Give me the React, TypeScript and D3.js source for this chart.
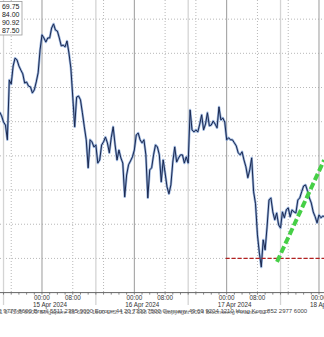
import React from 'react';
import * as d3 from 'd3';

// Price series: 30-minute samples starting 14 Apr 2024 13:00 UTC
const seriesStart = Date.UTC(2024, 3, 14, 13, 0);
const stepMinutes = 30;
const prices = [
  5042.8, 5041.7, 5039.9, 5039.0, 5034.7, 5052.2, 5051.0, 5056.3, 5058.6, 5058.1,
  5056.3, 5055.1, 5054.0, 5051.3, 5051.6, 5050.4, 5050.2, 5048.4, 5049.3, 5051.6,
  5054.3, 5061.0, 5065.4, 5064.5, 5063.3, 5064.5, 5064.5, 5067.4, 5068.6, 5066.8,
  5066.5, 5064.5, 5062.2, 5062.4, 5061.9, 5063.6, 5060.1, 5055.7, 5047.2, 5038.5,
  5047.2, 5047.5, 5046.4, 5042.6, 5038.5, 5034.7, 5026.5, 5034.7, 5034.1, 5032.6,
  5033.2, 5027.9, 5028.8, 5033.2, 5034.1, 5035.5, 5033.8, 5030.9, 5035.3, 5038.5,
  5033.2, 5028.8, 5031.7, 5029.4, 5027.9, 5018.0, 5024.4, 5027.4, 5028.5, 5029.7,
  5031.7, 5036.1, 5036.7, 5034.7, 5033.8, 5034.7, 5030.3, 5017.7, 5025.9, 5026.5,
  5030.3, 5033.2, 5032.6, 5030.3, 5022.4, 5028.8, 5025.0, 5020.9, 5018.9, 5021.5,
  5028.2, 5032.6, 5028.2, 5029.4, 5030.3, 5030.3, 5027.9, 5029.7, 5027.9, 5043.4,
  5037.6, 5037.0, 5037.6, 5037.0, 5039.3, 5042.0, 5037.6, 5039.3, 5042.6, 5038.8,
  5039.0, 5040.2, 5039.3, 5038.2, 5044.3, 5040.5, 5041.1, 5039.9, 5034.7, 5035.3,
  5034.7, 5034.7, 5033.8, 5032.9, 5030.9, 5030.3, 5031.2, 5028.8, 5026.8, 5023.6,
  5025.9, 5029.4, 5019.5, 5016.0, 5006.9, 5001.6, 4997.5, 5005.4, 5002.5, 5009.2,
  5017.1, 5017.7, 5013.6, 5011.3, 5013.3, 5009.8, 5008.9, 5013.6, 5011.9, 5014.2,
  5014.8, 5012.2, 5014.2, 5013.6, 5013.3, 5017.1, 5017.7, 5019.5, 5021.2, 5021.5,
  5019.8, 5017.7, 5016.2, 5013.6, 5012.2, 5010.4, 5012.7, 5011.9, 5012.4, 5012.2,
];

const gridLevels = [5000, 5010, 5020, 5030, 5040, 5050, 5060, 5070];
const axisLevel = 4990;
const topLevel = 5075.6;
const viewStart = Date.UTC(2024, 3, 14, 13, 5);
const viewEnd = Date.UTC(2024, 3, 18, 1, 18);

const days = [Date.UTC(2024, 3, 14), Date.UTC(2024, 3, 15), Date.UTC(2024, 3, 16), Date.UTC(2024, 3, 17), Date.UTC(2024, 3, 18)];
const labelledDays = ['15 Apr 2024', '16 Apr 2024', '17 Apr 2024', '18 Apr 2024'];
const timeLabels = [{ h: 0, t: '00:00' }, { h: 8, t: '08:00' }];
const dottedHours = [8, 16];
const sessionHour = 14;

const legendValues = ['69.75', '84.00', '90.92', '87.50'];

const supportLevel = 5000;
const supportStart = Date.UTC(2024, 3, 16, 23, 45);
const trendStart = { t: Date.UTC(2024, 3, 17, 13, 5), v: 4999.0 };
const trendEnd = { t: Date.UTC(2024, 3, 18, 1, 20), v: 5028.8 };

const footerA = 'Australia 61 2 9777 8600 Brazil 5511 2395 9000 Europe 44 20 7330 7500 Germany 49 69 9204 1210 Hong Kong 852 2977 6000';
const footerB = 'Japan 81 3 4565 8900 Singapore 65 6212 1000 U.S. 1 212 318 2000 Copyright 2024 Bloomberg Finance L.P.';

const W = 324;
const H = 337;
const HOUR = 3600e3;

export default function App() {
  const x = d3.scaleUtc().domain([new Date(viewStart), new Date(viewEnd)]).range([0, W]);
  const y = d3.scaleLinear().domain([axisLevel, topLevel]).range([292.6, 0]);
  const axisY = y(axisLevel);

  const pts = prices.map((v, i) => ({ t: new Date(seriesStart + i * stepMinutes * 60e3), v }));
  const line = d3.line<{ t: Date; v: number }>().x(d => x(d.t)).y(d => y(d.v));
  const path = line(pts) || '';

  const ticks: number[] = [];
  for (let t = days[0]; t <= viewEnd; t += 2 * HOUR) ticks.push(t);

  const font = 'Liberation Sans, Arial, sans-serif';

  return (
    <svg width={W} height={H} style={{ position: 'absolute', left: 0, top: 0, background: '#fff' }}>
      <defs>
        <clipPath id="plot">
          <rect x={0} y={0} width={W} height={axisY} />
        </clipPath>
      </defs>
      <rect x={0} y={0} width={W} height={H} fill="#fff" />
      {gridLevels.map(l => (
        <line key={l} x1={0} x2={W} y1={y(l)} y2={y(l)} stroke="#b8b8b8" strokeWidth={1} strokeDasharray="1 2" />
      ))}
      {days.map(d => (
        <g key={d}>
          {dottedHours.map(h => (
            <line key={h} x1={x(new Date(d + h * HOUR))} x2={x(new Date(d + h * HOUR))} y1={0} y2={axisY} stroke="#b8b8b8" strokeWidth={1} strokeDasharray="1 2" />
          ))}
          <line x1={x(new Date(d + sessionHour * HOUR))} x2={x(new Date(d + sessionHour * HOUR))} y1={0} y2={305} stroke="#d4d4d4" strokeWidth={1.3} />
          <line x1={x(new Date(d))} x2={x(new Date(d))} y1={0} y2={axisY} stroke="#9a9a9a" strokeWidth={1} />
        </g>
      ))}
      <g clipPath="url(#plot)">
        <path d={path} fill="none" stroke="#6d93cc" strokeWidth={2.4} strokeOpacity={0.7} strokeLinejoin="round" />
        <path d={path} fill="none" stroke="#1a2850" strokeWidth={1} strokeLinejoin="round" />
      </g>
      <line x1={x(new Date(supportStart))} x2={W} y1={y(supportLevel)} y2={y(supportLevel)} stroke="#b42020" strokeWidth={1.2} strokeDasharray="4 2" />
      <line x1={x(new Date(trendStart.t))} y1={y(trendStart.v)} x2={x(new Date(trendEnd.t))} y2={y(trendEnd.v)} stroke="#46cf46" strokeWidth={4} strokeDasharray="7 3" />
      <line x1={0} x2={W} y1={axisY} y2={axisY} stroke="#666" strokeWidth={1} />
      {ticks.map(t => (
        <line key={t} x1={x(new Date(t))} x2={x(new Date(t))} y1={axisY} y2={axisY + 2} stroke="#666" strokeWidth={0.8} />
      ))}
      {days.slice(1).map((d, i) => (
        <g key={d} fontFamily={font} fill="#333">
          {timeLabels.map(tl => (
            <text key={tl.t} x={x(new Date(d + tl.h * HOUR))} y={299.5} fontSize={6.3} textAnchor="middle">{tl.t}</text>
          ))}
          <text x={x(new Date(d)) - 9} y={306.5} fontSize={6.3}>{labelledDays[i]}</text>
        </g>
      ))}
      <text x={-35} y={313} fontSize={6} fontFamily={font} fill="#444">{footerA}</text>
      <text x={-22} y={313.5} fontSize={6} fontFamily={font} fill="#555" opacity={0.8}>{footerB}</text>
      <rect x={-5} y={1.5} width={27} height={33.5} fill="#fff" stroke="#999" strokeWidth={0.8} />
      {legendValues.map((v, i) => (
        <text key={v} x={19.5} y={9 + i * 8} fontSize={7} fontFamily={font} textAnchor="end" fill="#222">{v}</text>
      ))}
    </svg>
  );
}
